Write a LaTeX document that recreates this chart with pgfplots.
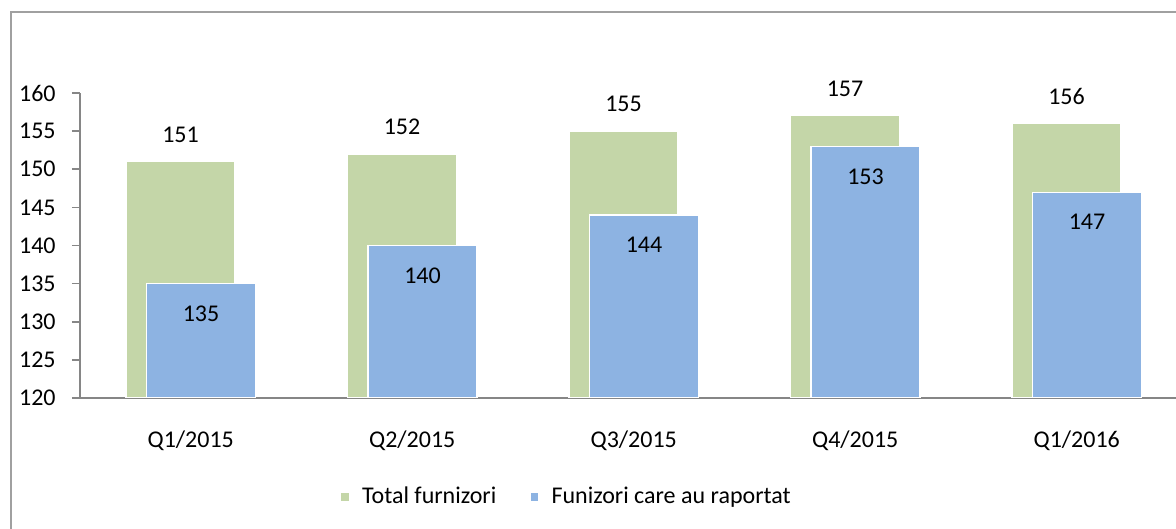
\documentclass[border=0pt]{standalone}
\usepackage{pgfplots}
\pgfplotsset{compat=1.18}
\usepackage{fontspec}
\setmainfont{Carlito}
\definecolor{grn}{RGB}{196,214,168}
\definecolor{blu}{RGB}{141,179,226}
\definecolor{axgray}{RGB}{134,134,134}
\definecolor{frgray}{RGB}{160,160,160}
\begin{document}
\fontsize{12}{14}\selectfont
\begin{tikzpicture}
\useasboundingbox (0,0) rectangle (588pt,264.5pt);
\draw[frgray, line width=0.8pt] (5.5pt,-2pt) -- (5.5pt,258.5pt) -- (592pt,258.5pt);
\begin{axis}[
  at={(40pt,65.5pt)}, anchor=south west,
  scale only axis, width=553.75pt, height=152.5pt,
  ybar, bar width=54.5pt,
  xmin=-0.5, xmax=4.5, ymin=120, ymax=160,
  enlargelimits=false,
  axis x line*=bottom, axis y line*=left,
  axis line style={axgray, line width=0.8pt},
  xtick={0,1,2,3,4},
  xticklabels={Q1/2015,Q2/2015,Q3/2015,Q4/2015,Q1/2016},
  ytick={120,125,...,160},
  tick align=outside, major tick length=4pt,
  ytick style={axgray, line width=0.8pt},
  xtick style={draw=none},
  xticklabel style={anchor=center, yshift=-17.5pt, inner sep=0pt},
  yticklabel style={anchor=east, inner sep=0pt, xshift=-8pt},
  /pgf/number format/assume math mode=true,
  ticklabel style={font=\fontsize{12}{14}\selectfont},
  legend columns=2,
  legend style={at={(0.44,-0.3246)}, anchor=center, draw=none, fill=none,
    font=\fontsize{12}{14}\selectfont,
    /tikz/every even column/.append style={column sep=14.5pt}},
  legend image code/.code={\fill[#1] (0pt,-2.25pt) rectangle (4.5pt,2.25pt);},
  clip=true,
]
\addplot[fill=grn, draw=white, line width=0.6pt, bar shift=-5.125pt,
  nodes near coords, nodes near coords style={anchor=center, yshift=13.5pt, font=\fontsize{12}{14}\selectfont, text=black}]
  coordinates {(0,151) (1,152) (2,155) (3,157) (4,156)};
\addplot[fill=blu, draw=white, line width=0.6pt, bar shift=5.125pt,
  nodes near coords, nodes near coords style={anchor=center, yshift=-15pt, font=\fontsize{12}{14}\selectfont, text=black}]
  coordinates {(0,135) (1,140) (2,144) (3,153) (4,147)};
\legend{\hspace{4pt}Total furnizori, \hspace{4pt}Funizori care au raportat}
\end{axis}
\end{tikzpicture}
\end{document}
